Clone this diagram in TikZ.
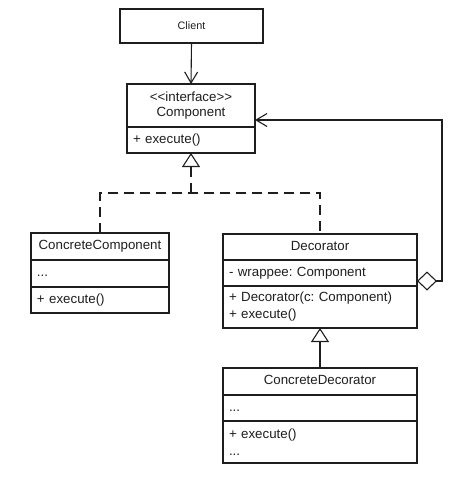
\documentclass[tikz,border=0pt]{standalone}
\usepackage{fontspec}
\setmainfont{Liberation Sans}
\usetikzlibrary{arrows.meta}
\frenchspacing

\definecolor{ink}{HTML}{1E1E1E}

\tikzset{
  uml/.style={draw=ink, line width=1.1pt, rectangle, inner xsep=6pt, inner ysep=0pt,
              outer sep=0pt, anchor=north west, text=ink,
              font=\fontsize{13.3}{17}\selectfont},
  head/.style={uml, align=center},
  body/.style={uml, align=left},
  oneline/.style={text height=9.6pt, text depth=2.7pt},
  link/.style={draw=ink, line width=1.1pt},
  assoc/.style={link, -{Straight Barb[length=11pt, width=13pt, line width=1.1pt]}},
  inherit/.style={link, -{Triangle[open, length=14pt, width=18pt, line width=1.1pt]}},
  realize/.style={inherit, dash pattern=on 10pt off 6pt},
  aggregate/.style={link, {Diamond[open, length=20pt, width=19pt, line width=1.1pt]}-{Straight Barb[length=11pt, width=13pt, line width=1.1pt]}},
}

\begin{document}
\begin{tikzpicture}[x=1pt, y=-1pt]
  \useasboundingbox (0,0) rectangle (449,491);

  % Client
  \node[head, oneline, text width=131pt, minimum height=34pt,
        font=\fontsize{10.8}{12}\selectfont] (client) at (120,9) {Client};

  % Component interface
  \node[head, text width=116pt, minimum height=43pt,
        font=\fontsize{13.3}{15}\selectfont] (comp-title) at (127,84)
        {{<}{<}interface{>}{>}\\Component};
  \node[body, oneline, text width=116pt, minimum height=26pt] (comp-ops)
        at (comp-title.south west) {+ execute()};

  % ConcreteComponent
  \node[head, oneline, text width=126pt, minimum height=27pt] (cc-title)
        at (31,233) {ConcreteComponent};
  \node[body, oneline, text width=126pt, minimum height=27pt] (cc-attrs)
        at (cc-title.south west) {...};
  \node[body, oneline, text width=126pt, minimum height=26pt] (cc-ops)
        at (cc-attrs.south west) {+ execute()};

  % Decorator
  \node[head, oneline, text width=182pt, minimum height=26pt] (dec-title)
        at (223,234) {Decorator};
  \node[body, oneline, text width=182pt, minimum height=26pt] (dec-attrs)
        at (dec-title.south west) {- wrappee: Component};
  \node[body, text width=182pt, minimum height=42pt] (dec-ops)
        at (dec-attrs.south west) {+ Decorator(c: Component)\\+ execute()};

  % ConcreteDecorator
  \node[head, oneline, text width=182pt, minimum height=27pt] (cd-title)
        at (223,368) {ConcreteDecorator};
  \node[body, oneline, text width=182pt, minimum height=26pt] (cd-attrs)
        at (cd-title.south west) {...};
  \node[body, text width=182pt, minimum height=42pt] (cd-ops)
        at (cd-attrs.south west) {+ execute()\\...};

  % Client uses Component
  \draw[assoc] (client.south) -- (comp-title.north);

  % Realizations of the interface
  \coordinate (fork) at ([yshift=-40pt]comp-ops.south);
  \draw[realize, -] (cc-title.north) |- (fork) -| (dec-title.north);
  \draw[realize] (fork) -- (comp-ops.south);

  % ConcreteDecorator extends Decorator
  \draw[inherit] (cd-title.north) -- (dec-ops.south);

  % Decorator wraps a Component
  \coordinate (wrap) at ([yshift=-8pt]dec-attrs.east);
  \coordinate (hook) at ([yshift=7pt]comp-ops.north east);
  \draw[aggregate] (wrap) -- ++(25,0) |- (hook);
\end{tikzpicture}
\end{document}
